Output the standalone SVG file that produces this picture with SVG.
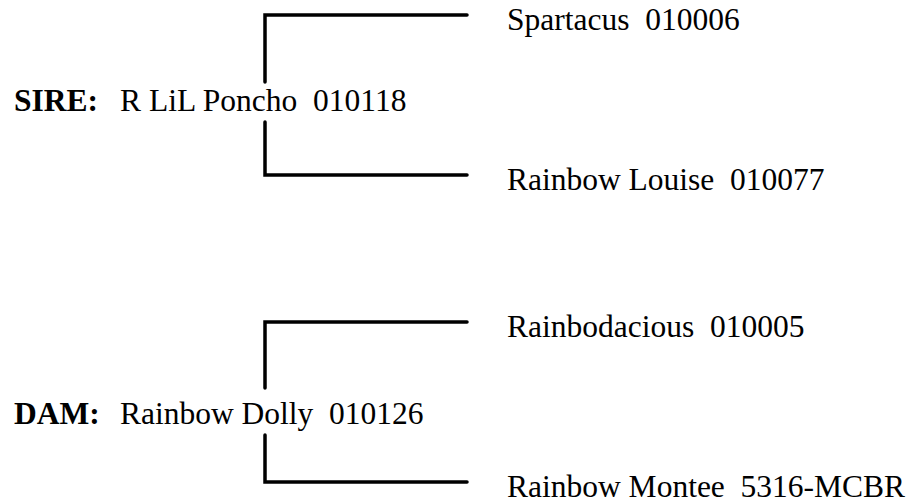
<svg xmlns="http://www.w3.org/2000/svg" width="911" height="503" viewBox="0 0 911 503">
<style>
text{font-family:"Liberation Serif","Times New Roman",serif;font-size:31.5px;fill:#000;white-space:pre}
.b{font-weight:bold}
.ln{stroke:#000;stroke-width:3.5;fill:none;stroke-linecap:round;stroke-linejoin:miter}
</style>
<rect width="911" height="503" fill="#fff"/>
<g id="connectors">
<path class="ln" d="M467 15 H265 V82"/>
<path class="ln" d="M265 122 V175 H467"/>
<path class="ln" d="M467 322 H265 V388"/>
<path class="ln" d="M265 435 V482 H467"/>
</g>
<g id="sire"><text class="b" x="14" y="111">SIRE:</text><text x="120" y="111">R LiL Poncho  010118</text></g>
<g id="sire-sire"><text x="507" y="30">Spartacus  010006</text></g>
<g id="sire-dam"><text x="507" y="190">Rainbow Louise  010077</text></g>
<g id="dam"><text class="b" x="14" y="424">DAM:</text><text x="120" y="424">Rainbow Dolly  010126</text></g>
<g id="dam-sire"><text x="507" y="337">Rainbodacious  010005</text></g>
<g id="dam-dam"><text x="507" y="497">Rainbow Montee  5316-MCBR</text></g>
</svg>
